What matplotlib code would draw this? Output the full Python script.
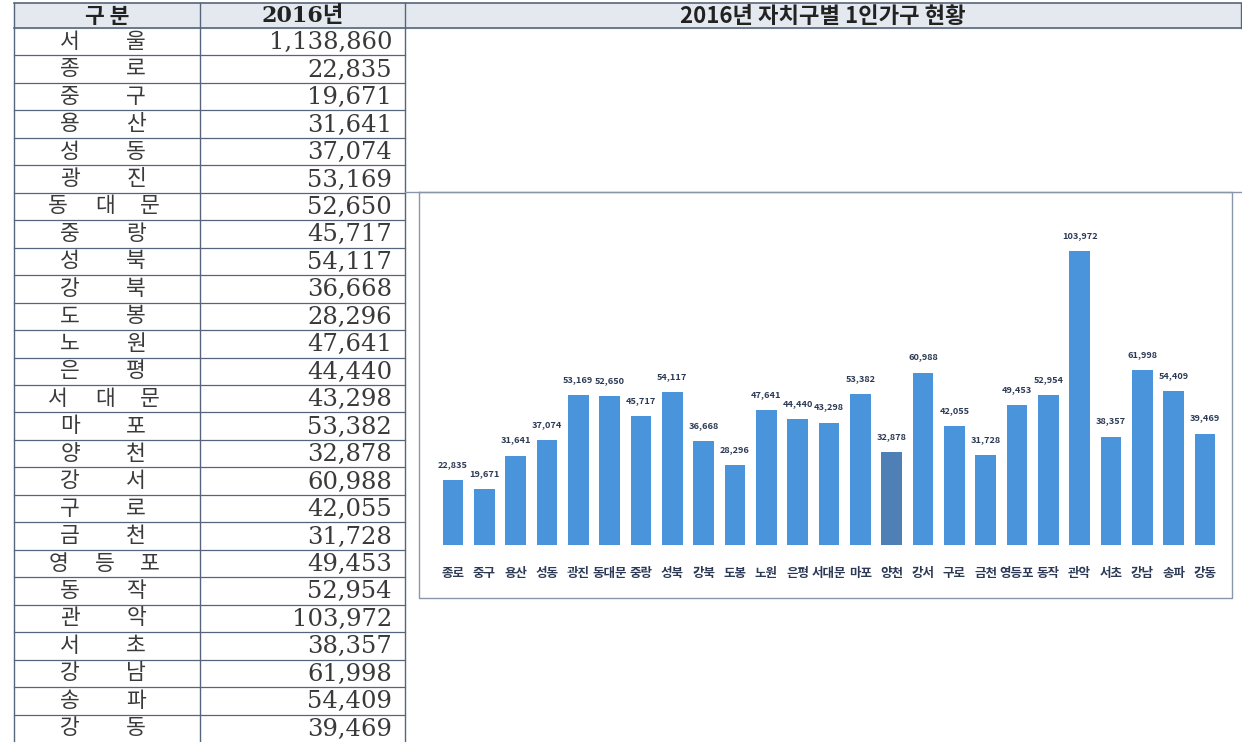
import matplotlib.pyplot as plt
import numpy as np

plt.rcParams['font.family'] = ['Noto Sans CJK KR', 'DejaVu Sans']

# data
districts = ['종로', '중구', '용산', '성동', '광진', '동대문', '중랑', '성북', '강북', '도봉',
             '노원', '은평', '서대문', '마포', '양천', '강서', '구로', '금천', '영등포', '동작',
             '관악', '서초', '강남', '송파', '강동']
households = [22835, 19671, 31641, 37074, 53169, 52650, 45717, 54117, 36668, 28296,
              47641, 44440, 43298, 53382, 32878, 60988, 42055, 31728, 49453, 52954,
              103972, 38357, 61998, 54409, 39469]
seoul_total = 1138860
highlight = '양천'

W, H = 1242, 742
fig = plt.figure(figsize=(W / 100, H / 100), dpi=100)

# page layer in pixel coords (table + frames)
bg = fig.add_axes([0, 0, 1, 1])
bg.set_xlim(0, W)
bg.set_ylim(H, 0)
bg.axis('off')

line_c = '#56657c'
x_left, x_mid, x_tab, x_right = 14, 200, 405, 1241
y_top, y_head = 3, 28
row_h = (H - y_head) / 26

# header backgrounds
bg.fill_between([x_left, x_right], y_top, y_head, color='#e4e9f0', zorder=0)
bg.plot([x_left, x_right], [y_top, y_top], color=line_c, lw=1.2)
bg.plot([x_left, x_right], [y_head, y_head], color=line_c, lw=1.2)
for x in (x_left, x_mid, x_tab):
    bg.plot([x, x], [y_top, H], color=line_c, lw=1)
bg.plot([x_right, x_right], [y_top, y_head], color=line_c, lw=1)

yh = (y_top + y_head) / 2 + 1
bg.text((x_left + x_mid) / 2, yh, '구 분', ha='center', va='center',
        fontsize=15.5, fontweight='bold', color='#222')
bg.text((x_mid + x_tab) / 2, yh, '2016년', ha='center', va='center',
        fontsize=16, fontweight='bold', color='#222', family=['DejaVu Serif', 'Noto Sans CJK KR'])
bg.text((x_tab + x_right) / 2, yh, '2016년 자치구별 1인가구 현황',
        ha='center', va='center', fontsize=16, fontweight='bold', color='#222')

# name character positions inside the first column
pos2 = [70, 136]
pos3 = [58, 105, 150]

names = ['서울'] + districts
vals = [seoul_total] + households
for i, (n, v) in enumerate(zip(names, vals)):
    y0 = y_head + i * row_h
    yc = y0 + row_h / 2
    if i > 0:
        bg.plot([x_left, x_tab], [y0, y0], color=line_c, lw=0.9)
    xs = pos2 if len(n) == 2 else pos3
    for ch, xc in zip(n, xs):
        bg.text(xc, yc, ch, ha='center', va='center', fontsize=15.5, color='#3a3a3a')
    bg.text(x_tab - 13, yc + 1, f'{v:,}', ha='right', va='center',
            fontsize=17.5, color='#3a3a3a', family='DejaVu Serif')

# chart frame
cx0, cy0, cx1, cy1 = 419, 192, 1232, 598
bg.plot([x_tab, x_right], [cy0, cy0], color='#8a97aa', lw=1)
bg.plot([cx0, cx0, cx1, cx1, cx0], [cy0, cy1, cy1, cy0, cy0], color='#8a97aa', lw=1)

# bar chart
first_c, last_c = 453, 1205
step = (last_c - first_c) / 24
px_l = first_c - 0.6 * step
px_r = last_c + 0.6 * step
base_y, top_y = 545, 206
ax = fig.add_axes([px_l / W, (H - base_y) / H, (px_r - px_l) / W, (base_y - top_y) / H])
ax.set_xlim(-0.6, 24.6)
ax.set_ylim(0, 120000)
ax.patch.set_alpha(0)
for s in ax.spines.values():
    s.set_visible(False)

colors = ['#4e7fb5' if d == highlight else '#4a94dc' for d in districts]
x = np.arange(len(districts))
bars = ax.bar(x, households, width=0.66, color=colors)
ax.bar_label(bars, labels=[f'{v:,}' for v in households], padding=8,
             fontsize=6.6, fontweight='bold', color='#2c3a55')
ax.set_yticks([])
ax.set_xticks(x)
ax.set_xticklabels(districts, fontsize=9, fontweight='bold', color='#2c3a55')
ax.tick_params(axis='x', length=0, pad=16)

fig.savefig('out.png', dpi=100)
